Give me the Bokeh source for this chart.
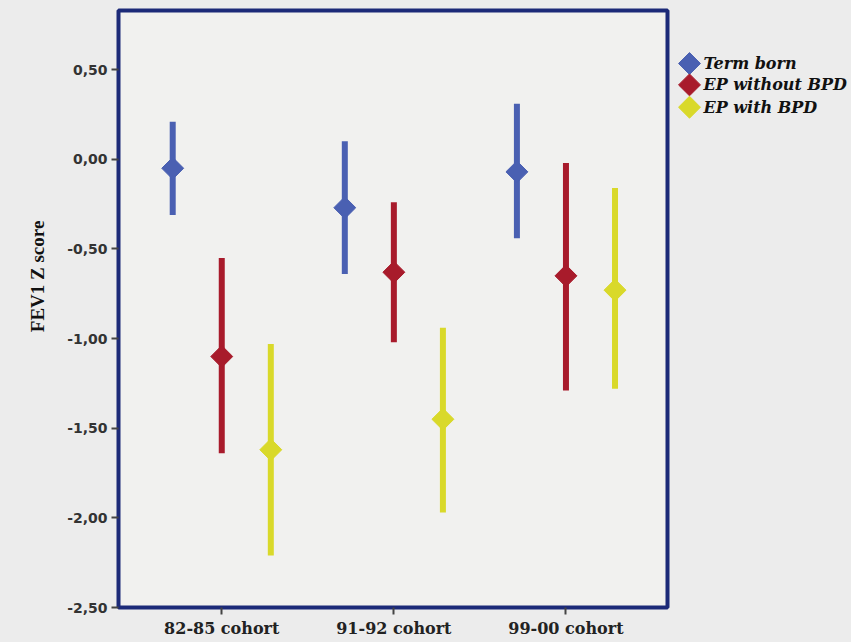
import numpy as np
from bokeh.plotting import figure
from bokeh.layouts import row
from bokeh.models import FixedTicker, Range1d
from bokeh.core.properties import value
from bokeh.embed import file_html
from bokeh.resources import INLINE

cohorts = ["82-85 cohort", "91-92 cohort", "99-00 cohort"]
groups = ["Term born", "EP without BPD", "EP with BPD"]
y_title = "FEV1 Z score"

term_mean = [-0.05, -0.27, -0.07]
term_low = [-0.31, -0.64, -0.44]
term_high = [0.21, 0.10, 0.31]

epwo_mean = [-1.10, -0.63, -0.65]
epwo_low = [-1.64, -1.02, -1.29]
epwo_high = [-0.55, -0.24, -0.02]

epw_mean = [-1.62, -1.45, -0.73]
epw_low = [-2.21, -1.97, -1.28]
epw_high = [-1.03, -0.94, -0.16]

y_ticks = [-2.5, -2.0, -1.5, -1.0, -0.5, 0.0, 0.5]
y_tick_labels = ["-2,50", "-2,00", "-1,50", "-1,00", "-0,50", "0,00", "0,50"]

colors = ["#4a60b2", "#a81b2b", "#d9d92a"]
offsets = [-0.285, 0.0, 0.285]
BG = "#ececec"
H = 642

p = figure(width=610, height=H, output_backend="svg", toolbar_location=None,
           x_range=Range1d(0.4, 3.59), y_range=Range1d(-2.5, 0.83),
           min_border_left=58, min_border_right=3, min_border_top=10, min_border_bottom=35)
p.background_fill_color = "#f1f1ef"
p.border_fill_color = BG
p.outline_line_color = "#1c2a78"
p.outline_line_width = 4
p.xgrid.visible = False
p.ygrid.visible = False

base_x = np.arange(1, len(cohorts) + 1)
series = [(term_mean, term_low, term_high), (epwo_mean, epwo_low, epwo_high), (epw_mean, epw_low, epw_high)]
for (m, lo, hi), c, off in zip(series, colors, offsets):
    xs = base_x + off
    p.segment(x0=xs, y0=lo, x1=xs, y1=hi, line_color=c, line_width=6)
    p.scatter(x=xs, y=m, marker="square", angle=np.pi / 4, size=15.5,
              fill_color=c, line_color=c)

p.xaxis.ticker = FixedTicker(ticks=list(base_x))
p.xaxis.major_label_overrides = {int(i): c for i, c in zip(base_x, cohorts)}
p.xaxis.minor_tick_line_color = None
p.xaxis.axis_line_color = None
p.xaxis.major_tick_out = 7
p.xaxis.major_tick_in = 0
p.xaxis.major_tick_line_color = "#444444"
p.xaxis.major_tick_line_width = 2
p.xaxis.major_label_text_font = "DejaVu Serif"
p.xaxis.major_label_text_font_style = "bold"
p.xaxis.major_label_text_font_size = "16px"
p.xaxis.major_label_text_color = "#222222"
p.xaxis.major_label_standoff = 4

p.yaxis.ticker = FixedTicker(ticks=y_ticks)
p.yaxis.major_label_overrides = {t: l for t, l in zip(y_ticks, y_tick_labels)}
p.yaxis.minor_tick_line_color = None
p.yaxis.axis_line_color = None
p.yaxis.major_tick_out = 7
p.yaxis.major_tick_in = 0
p.yaxis.major_tick_line_color = "#444444"
p.yaxis.major_tick_line_width = 2
p.yaxis.major_label_text_font = "DejaVu Sans"
p.yaxis.major_label_text_font_style = "bold"
p.yaxis.major_label_text_font_size = "14px"
p.yaxis.major_label_text_color = "#333333"
p.yaxis.major_label_standoff = 4

# left strip carrying the y-axis title
lt = figure(width=60, height=H, output_backend="svg", toolbar_location=None,
            x_range=Range1d(0, 60), y_range=Range1d(0, H),
            min_border=0, x_axis_type=None, y_axis_type=None)
lt.background_fill_color = BG
lt.border_fill_color = BG
lt.outline_line_color = None
lt.xgrid.visible = False
lt.ygrid.visible = False
lt.text(x=[37], y=[H - 286], text=[y_title], angle=np.pi / 2,
        text_align="center", text_baseline="middle",
        text_font=value("Liberation Serif"), text_font_style="bold",
        text_font_size="19px", text_color="#111111")

# legend panel (separate figure, pixel coordinates from top-left)
lg = figure(width=181, height=H, output_backend="svg", toolbar_location=None,
            x_range=Range1d(0, 181), y_range=Range1d(H, 0),
            min_border=0, x_axis_type=None, y_axis_type=None)
lg.background_fill_color = BG
lg.border_fill_color = BG
lg.outline_line_color = None
lg.xgrid.visible = False
lg.ygrid.visible = False
leg_y = [57, 80, 104]
lg.scatter(x=[19] * len(groups), y=leg_y, marker="square", angle=np.pi / 4, size=15.5,
           fill_color=colors, line_color=colors)
lg.text(x=[33] * len(groups), y=leg_y, text=groups, text_baseline="middle",
        text_font=value("DejaVu Serif"), text_font_style="bold italic",
        text_font_size="16px", text_color="#111111")

layout = row(lt, p, lg, spacing=0, styles={"background-color": BG})
open("out.html", "w").write(file_html(layout, INLINE))
